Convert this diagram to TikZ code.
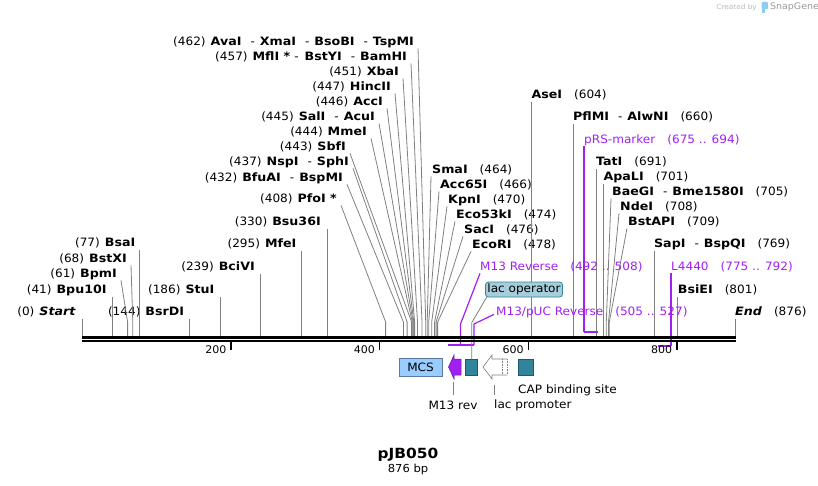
\documentclass[tikz,border=0pt]{standalone}
\usepackage{fontspec}
\setmainfont{DejaVu Sans}[FakeStretch=1.05, BoldFeatures={FakeStretch=1.1}, BoldItalicFeatures={FakeStretch=1.1}]
\definecolor{purp}{RGB}{160,32,240}
\definecolor{tealf}{RGB}{49,133,155}
\definecolor{tealb}{RGB}{30,90,110}
\definecolor{lacbox}{RGB}{166,205,217}
\definecolor{mcsblue}{RGB}{153,204,255}
\definecolor{mcsline}{RGB}{90,120,160}
\definecolor{cutgray}{RGB}{128,128,128}
\definecolor{logoblue}{RGB}{140,205,240}
\newcommand\esep{\hspace{9pt}-\hspace{5pt}}
\newcommand\lpn[1]{(#1)\hspace{5pt}}
\newcommand\rpn[1]{\hspace{12pt}(#1)}
\begin{document}
\begin{tikzpicture}[x=1pt,y=-1pt,
  lab/.style={inner sep=0pt, text height=8.3pt, text depth=0pt, font=\fontsize{11.5}{12}\selectfont},
  L/.style={lab,anchor=east}, R/.style={lab,anchor=west},
  cut/.style={draw=cutgray, line width=0.8pt},
  pl/.style={draw=purp, line width=1.2pt},
  pbar/.style={draw=purp, line width=2pt},
  sq/.style={draw=tealb, fill=tealf, line width=0.5pt, minimum width=12pt, minimum height=16pt, inner sep=0pt},
]
\useasboundingbox (0,0) rectangle (818,486);

% cut coordinates on the backbone
\foreach \n/\p in {0/82.3,41/112.8,61/127.6,68/132.8,77/139.5,144/189.3,186/220.6,239/260.0,
  295/301.6,330/327.6,408/385.6,432/403.4,437/407.1,443/411.6,444/412.3,445/413.1,446/413.8,
  447/414.6,451/417.5,457/422.0,462/425.7,464/427.2,466/428.7,470/431.7,474/434.6,476/436.1,
  478/437.6,604/531.3,660/572.9,691/595.9,701/603.4,705/606.3,708/608.5,709/609.3,769/653.9,
  801/677.7,876/735}
  \coordinate (c\n) at (\p,336);

% ---------- left labels ----------
\node[L] (start) at (76,311) {\lpn{0}\textbf{\textit{Start}}};
\node[L] (bpu) at (106.8,289) {\lpn{41}\textbf{Bpu10I}};
\node[L] (bpmi) at (117,273) {\lpn{61}\textbf{BpmI}};
\node[L] (bstxi) at (127,258) {\lpn{68}\textbf{BstXI}};
\node[L] (bsai) at (135.5,242) {\lpn{77}\textbf{BsaI}};
\node[L] (bsrdi) at (184.3,311) {\lpn{144}\textbf{BsrDI}};
\node[L] (stui) at (214.6,289) {\lpn{186}\textbf{StuI}};
\node[L] (bcivi) at (255,266) {\lpn{239}\textbf{BciVI}};
\node[L] (mfei) at (296.6,243) {\lpn{295}\textbf{MfeI}};
\node[L] (bsu) at (321,221) {\lpn{330}\textbf{Bsu36I}};
\node[L] (pfoi) at (337,198) {\lpn{408}\textbf{PfoI *}};
\node[L] (bfuai) at (343,177) {\lpn{432}\textbf{BfuAI}\esep\textbf{BspMI}};
\node[L] (nspi) at (349,161) {\lpn{437}\textbf{NspI}\esep\textbf{SphI}};
\node[L] (sbfi) at (346,146) {\lpn{443}\textbf{SbfI}};
\node[L] (mmei) at (367,131) {\lpn{444}\textbf{MmeI}};
\node[L] (sali) at (375,116) {\lpn{445}\textbf{SalI}\esep\textbf{AcuI}};
\node[L] (acci) at (383,101) {\lpn{446}\textbf{AccI}};
\node[L] (hincii) at (391,86) {\lpn{447}\textbf{HincII}};
\node[L] (xbai) at (399,71) {\lpn{451}\textbf{XbaI}};
\node[L] (mfli) at (407,56) {\lpn{457}\textbf{MflI *}\hspace{4pt}-\hspace{6pt}\textbf{BstYI}\esep\textbf{BamHI}};
\node[L] (avai) at (414,41) {\lpn{462}\textbf{AvaI}\esep\textbf{XmaI}\esep\textbf{BsoBI}\esep\textbf{TspMI}};

% ---------- right labels ----------
\node[R] (smai) at (432,169) {\textbf{SmaI}\rpn{464}};
\node[R] (acc65i) at (440,184) {\textbf{Acc65I}\rpn{466}};
\node[R] (kpni) at (448,199) {\textbf{KpnI}\rpn{470}};
\node[R] (eco53) at (456,214) {\textbf{Eco53kI}\rpn{474}};
\node[R] (saci) at (464,229) {\textbf{SacI}\rpn{476}};
\node[R] (ecori) at (472,244) {\textbf{EcoRI}\rpn{478}};
\node[R] (asei) at (531.3,94) {\textbf{AseI}\rpn{604}};
\node[R] (pflmi) at (572.9,116) {\textbf{PflMI}\esep\textbf{AlwNI}\rpn{660}};
\node[R] (tati) at (595.9,161) {\textbf{TatI}\rpn{691}};
\node[R] (apali) at (603.4,176) {\textbf{ApaLI}\rpn{701}};
\node[R] (baegi) at (612,191) {\textbf{BaeGI}\esep\textbf{Bme1580I}\rpn{705}};
\node[R] (ndei) at (620,206) {\textbf{NdeI}\rpn{708}};
\node[R] (bstapi) at (628,221) {\textbf{BstAPI}\rpn{709}};
\node[R] (sapi) at (653.9,243) {\textbf{SapI}\esep\textbf{BspQI}\rpn{769}};
\node[R] (bsiei) at (677.7,289) {\textbf{BsiEI}\rpn{801}};
\node[R] (endl) at (735,311) {\textbf{\textit{End}}\rpn{876}};

% ---------- cut lines ----------
% vertical ones
\foreach \nd/\c in {start/0,bpu/41,bsai/77,bsrdi/144,stui/186,bcivi/239,mfei/295,bsu/330}
  \draw[cut] (c\c |- \nd.south) ++(0,3.5) -- (c\c);
\foreach \nd/\c in {asei/604,pflmi/660,tati/691,apali/701,sapi/769,bsiei/801,endl/876}
  \draw[cut] (c\c |- \nd.south) ++(0,3.5) -- (c\c);
% slanted, left side
\foreach \nd/\c in {bpmi/61,bstxi/68,pfoi/408,bfuai/432,nspi/437,sbfi/443,mmei/444,sali/445,
  acci/446,hincii/447,xbai/451,mfli/457,avai/462}
  \draw[cut] (\nd.south east) ++(4,3) -- ([yshift=14pt]c\c) -- (c\c);
% slanted, right side
\foreach \nd/\c in {smai/464,acc65i/466,kpni/470,eco53/474,saci/476,ecori/478,baegi/705,ndei/708,bstapi/709}
  \draw[cut] (\nd.south west) ++(-1,3) -- ([yshift=14pt]c\c) -- (c\c);

% ---------- features above ----------
\node[R,text=purp] (prs) at (584,139) {pRS-marker\rpn{675 .. 694}};
\coordinate (prsa) at (584,332); \coordinate (prsb) at (598.1,332);
\draw[pl] (prs.south west) ++(0,3) -- (prsa);
\draw[pbar] (prsa) -- (prsb);

\node[R,text=purp] (m13r) at (480,266) {M13 Reverse\rpn{492 .. 508}};
\coordinate (m13a) at (448,345); \coordinate (m13b) at (460.5,345);
\draw[pl] (m13r.south west) ++(0,3) -- ([yshift=21pt]m13b) -- (m13b);
\draw[pbar] (m13a) -- (m13b);

\node[R,text=purp] (puc) at (496,311) {M13/pUC Reverse\rpn{505 .. 527}};
\coordinate (puca) at (457.7,345); \coordinate (pucb) at (474,345);
\draw[pl] (puc.south west) ++(-2,-1) -- ([yshift=21pt]pucb) -- (pucb);
\draw[pbar] (puca) -- (pucb);

\node[R,text=purp] (l4440) at (671,266) {L4440\rpn{775 .. 792}};
\coordinate (l44a) at (658.4,346); \coordinate (l44b) at (671,346);
\draw[pl] (l4440.south west) ++(0,3) -- (l44b);
\draw[pbar] (l44a) -- (l44b);

% lac operator
\node[sq] (lacsq) at (471.7,367) {};
\node[draw=tealf, fill=lacbox, rounded corners=3pt, line width=0.8pt, inner sep=0pt,
  minimum width=77pt, minimum height=15pt, font=\fontsize{11.5}{12}\selectfont] (lacop) at (524,289.5) {lac operator};
\draw[cut] (lacop.south west) ++(2,-1) -- ([yshift=36pt]lacsq.north) -- (lacsq.north);

% ---------- backbone ----------
\coordinate (bbl) at (82,337.5); \coordinate (bbr) at (736,337.5);
\draw[line width=2.6pt] (bbl) -- (bbr);
\draw[line width=2pt] ([yshift=-3.8pt]bbl) -- ([yshift=-3.8pt]bbr);
\foreach \x/\t in {231/200,379.6/400,528.3/600,676.9/800}{
  \draw[line width=1.6pt] (\x,342) -- (\x,349.5);
  \node[inner sep=0pt,text height=7.5pt,text depth=0pt,anchor=east,font=\fontsize{10.5}{11}\selectfont] at (\x-4.5,349.5) {\t};
}

% ---------- features below ----------
\node[draw=mcsline, fill=mcsblue, line width=0.5pt, minimum width=43pt, minimum height=18pt,
  inner sep=0pt, font=\fontsize{11.5}{12}\selectfont] (mcs) at (420.5,367) {MCS};

\coordinate (m13tip) at (448.5,367);
\filldraw[fill=purp, draw=purp!70!black, line width=0.5pt]
  (461,359) -- (454,359) -- (454,355) -- (m13tip) -- (454,379) -- (454,375) -- (461,375) -- cycle;
\node[lab,anchor=center] (m13lab) at (453,405) {M13 rev};
\draw[cut] ([yshift=6pt]m13lab.north) -- ++(0,-13);

\coordinate (lactip) at (483,367);
\filldraw[fill=white, draw=cutgray, line width=0.6pt]
  (507,359) -- (492,359) -- (492,355) -- (lactip) -- (492,379) -- (492,375) -- (507,375);
\draw[cutgray, line width=0.6pt, densely dotted] (507,359) -- (507,375) (502,359) -- (502,375);
\node[R] (lacprom) at (494,404.5) {lac promoter};
\draw[cut] ([yshift=5pt]lacprom.north west) -- ++(0,-10);

\node[sq, minimum width=15pt] (cap) at (525.5,367) {};
\node[R] (caplab) at (518,389) {CAP binding site};

% ---------- title ----------
\node[font=\bfseries\fontsize{14}{15}\selectfont, inner sep=0pt] (title) at (408,455) {pJB050};
\node[font=\fontsize{11}{12}\selectfont, inner sep=0pt] (bp) at (408,469) {876 bp};

% ---------- watermark ----------
\node[anchor=east, inner sep=0pt, text=gray!55, font=\fontsize{7}{8}\selectfont] (cb) at (757,7.5) {Created by};
\fill[logoblue, rounded corners=1pt] (761.5,2) rectangle (768,9);
\fill[logoblue] (761.5,8) rectangle (764.5,13);
\node[anchor=west, inner sep=0pt, text=gray!80, font=\fontsize{9}{10}\selectfont] (sg) at (770,7.5) {SnapGene};
\end{tikzpicture}
\end{document}
